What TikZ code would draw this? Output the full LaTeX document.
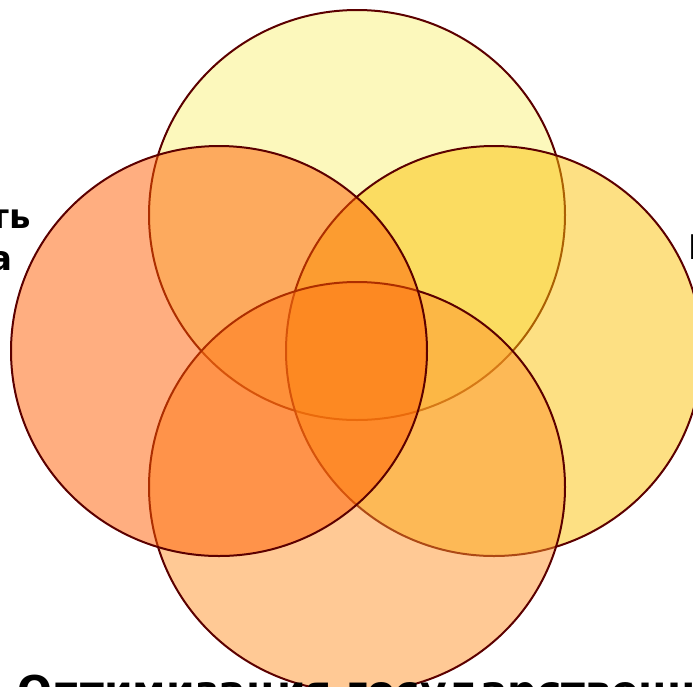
\documentclass[tikz,border=0pt]{standalone}
\usepackage{fontspec}
\setmainfont{DejaVu Sans}
\usetikzlibrary{positioning}
\definecolor{vennline}{RGB}{92,0,0}
\definecolor{venntop}{RGB}{249,241,121}
\definecolor{vennright}{RGB}{251,193,7}
\definecolor{vennbottom}{RGB}{255,147,43}
\definecolor{vennleft}{RGB}{255,93,1}

\begin{document}
\begin{tikzpicture}[x=1pt, y=-1pt,
    venn/.style={draw=vennline, line width=2pt, fill opacity=0.5},
    label/.style={font=\fontsize{34}{40}\selectfont\bfseries, text=black, inner sep=0pt},
    biglabel/.style={label, font=\fontsize{41}{48}\selectfont\bfseries}]
    \useasboundingbox (0,0) rectangle (693,686);
    \clip (0,0) rectangle (693,686);

    % Circles, back to front
    \foreach \cx/\cy/\col in {357/215/venntop, 494/351/vennright, 357/487/vennbottom, 219/351/vennleft} {
        \filldraw[venn, fill=\col] (\cx,\cy) ellipse (208pt and 205pt);
    }

    % Labels, cut by the page edge
    \node[label, anchor=base east] (leftone) at (31,228) {ть};
    \node[label, anchor=base east] (lefttwo) at (13,270) {а};
    \node[label, anchor=base west] (rightone) at (688,259) {Г};
    \node[biglabel, anchor=base west] (bottomone) at (17,705) {Оптимизация государственн};
\end{tikzpicture}
\end{document}
